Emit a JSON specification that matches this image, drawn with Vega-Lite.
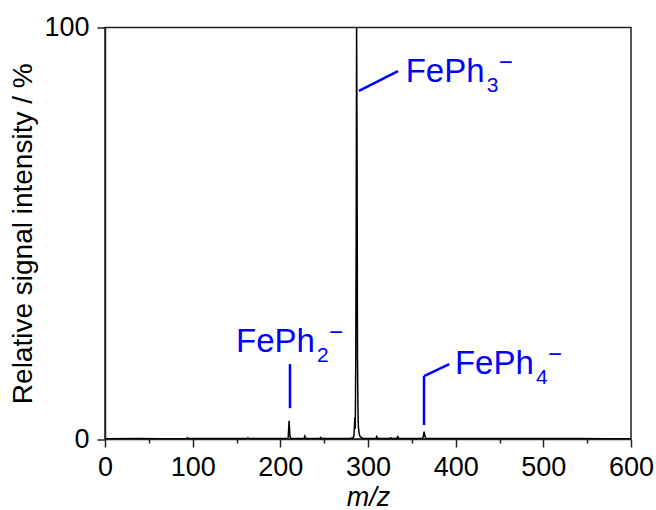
{
  "$schema": "https://vega.github.io/schema/vega-lite/v6.json",
  "width": 526,
  "height": 411.5,
  "autosize": "none",
  "padding": {"left": 105, "top": 27.5, "right": 25, "bottom": 71},
  "background": "white",
  "config": {
    "view": {"stroke": "#222", "strokeWidth": 1.5},
    "font": "Liberation Sans"
  },
  "datasets": {
    "spectrum": [
      {"mz": 0, "i": 0.05}, {"mz": 40, "i": 0.1}, {"mz": 60, "i": 0.05}, {"mz": 93, "i": 0.1}, {"mz": 94, "i": 0.3}, {"mz": 95, "i": 0.1},
      {"mz": 130, "i": 0.1}, {"mz": 150, "i": 0.1}, {"mz": 162, "i": 0.1}, {"mz": 163, "i": 0.3}, {"mz": 164, "i": 0.1},
      {"mz": 185, "i": 0.1}, {"mz": 200, "i": 0.15}, {"mz": 208, "i": 0.1}, {"mz": 209, "i": 0.4}, {"mz": 210, "i": 4.4},
      {"mz": 211, "i": 0.6}, {"mz": 212, "i": 0.15}, {"mz": 220, "i": 0.1}, {"mz": 227, "i": 0.1}, {"mz": 228, "i": 0.7},
      {"mz": 229, "i": 0.2}, {"mz": 240, "i": 0.1}, {"mz": 245, "i": 0.15}, {"mz": 246, "i": 0.4}, {"mz": 247, "i": 0.15},
      {"mz": 260, "i": 0.1}, {"mz": 270, "i": 0.15}, {"mz": 280, "i": 0.2}, {"mz": 283, "i": 0.3}, {"mz": 284, "i": 0.8},
      {"mz": 285, "i": 5.3}, {"mz": 285.5, "i": 2.5}, {"mz": 286, "i": 18}, {"mz": 286.5, "i": 48}, {"mz": 287, "i": 100},
      {"mz": 287.5, "i": 71}, {"mz": 288, "i": 20}, {"mz": 288.5, "i": 8}, {"mz": 289, "i": 3}, {"mz": 290, "i": 1.2},
      {"mz": 291, "i": 0.6}, {"mz": 292, "i": 0.4}, {"mz": 294, "i": 0.2}, {"mz": 300, "i": 0.15}, {"mz": 309, "i": 0.15},
      {"mz": 310, "i": 0.6}, {"mz": 311, "i": 0.2}, {"mz": 320, "i": 0.15}, {"mz": 325, "i": 0.1}, {"mz": 326, "i": 0.3},
      {"mz": 327, "i": 0.15}, {"mz": 333, "i": 0.2}, {"mz": 334, "i": 0.6}, {"mz": 335, "i": 0.2}, {"mz": 345, "i": 0.15},
      {"mz": 355, "i": 0.15}, {"mz": 362, "i": 0.2}, {"mz": 363, "i": 0.5}, {"mz": 364, "i": 1.8}, {"mz": 365, "i": 0.6},
      {"mz": 366, "i": 0.2}, {"mz": 380, "i": 0.1}, {"mz": 400, "i": 0.1}, {"mz": 420, "i": 0.1}, {"mz": 450, "i": 0.1},
      {"mz": 470, "i": 0.1}, {"mz": 500, "i": 0.15}, {"mz": 510, "i": 0.1}, {"mz": 540, "i": 0.1}, {"mz": 570, "i": 0.05},
      {"mz": 600, "i": 0.05}
    ],
    "leaders": [
      {"x": 289.7, "y": 84.6, "x2": 334.2, "y2": 89.4},
      {"x": 211.0, "y": 7.5, "x2": 211.0, "y2": 18.2},
      {"x": 363.9, "y": 3.4, "x2": 363.9, "y2": 15.3},
      {"x": 363.9, "y": 15.3, "x2": 392.7, "y2": 18.2}
    ],
    "labels": [
      {"x": 343.0, "y": 86.8, "main": "FePh", "sub": "3", "sup": "−"},
      {"x": 149.4, "y": 21.2, "main": "FePh", "sub": "2", "sup": "−"},
      {"x": 399.2, "y": 15.7, "main": "FePh", "sub": "4", "sup": "−"}
    ]
  },
  "layer": [
    {
      "data": {"name": "spectrum"},
      "mark": {"type": "line", "color": "black", "strokeWidth": 1.5, "clip": true},
      "encoding": {
        "x": {
          "field": "mz", "type": "quantitative",
          "scale": {"domain": [0, 600], "nice": false, "zero": false},
          "axis": {
            "values": [0, 25, 50, 75, 100, 125, 150, 175, 200, 225, 250, 275, 300, 325, 350, 375, 400, 425, 450, 475, 500, 525, 550, 575, 600],
            "labelExpr": "datum.value % 100 === 0 ? datum.label : ''",
            "tickSize": {"condition": {"test": "datum.value % 100 === 0", "value": 8}, "value": 4},
            "tickWidth": 1.5, "tickColor": "#222",
            "domainColor": "#222", "domainWidth": 1.5,
            "grid": false,
            "labelFontSize": 27, "labelColor": "black", "labelPadding": 7, "labelFlush": false,
            "title": "m/z", "titleFontSize": 27, "titleFontStyle": "italic", "titleFontWeight": "normal",
            "titleColor": "black", "titlePadding": 4
          }
        },
        "y": {
          "field": "i", "type": "quantitative",
          "scale": {"domain": [0, 100], "nice": false},
          "axis": {
            "values": [0, 100],
            "tickSize": 8, "tickWidth": 1.5, "tickColor": "#222",
            "domainColor": "#222", "domainWidth": 1.5,
            "grid": false,
            "labelFontSize": 27, "labelColor": "black", "labelPadding": 8, "labelFlush": false,
            "title": "Relative signal intensity / %", "titleFontSize": 28, "titleFontWeight": "normal",
            "titleColor": "black", "titlePadding": 6
          }
        }
      }
    },
    {
      "data": {"name": "leaders"},
      "mark": {"type": "rule", "color": "#0000ff", "strokeWidth": 2.5},
      "encoding": {
        "x": {"field": "x", "type": "quantitative"},
        "y": {"field": "y", "type": "quantitative"},
        "x2": {"field": "x2"},
        "y2": {"field": "y2"}
      }
    },
    {
      "data": {"name": "labels"},
      "mark": {"type": "text", "color": "#0000ff", "fontSize": 33, "align": "left", "baseline": "alphabetic"},
      "encoding": {
        "x": {"field": "x", "type": "quantitative"},
        "y": {"field": "y", "type": "quantitative"},
        "text": {"field": "main"}
      }
    },
    {
      "data": {"name": "labels"},
      "mark": {"type": "text", "color": "#0000ff", "fontSize": 21, "align": "left", "baseline": "alphabetic", "dx": 81, "dy": 10},
      "encoding": {
        "x": {"field": "x", "type": "quantitative"},
        "y": {"field": "y", "type": "quantitative"},
        "text": {"field": "sub"}
      }
    },
    {
      "data": {"name": "labels"},
      "mark": {"type": "text", "color": "#0000ff", "fontSize": 24, "align": "left", "baseline": "alphabetic", "dx": 93, "dy": -12},
      "encoding": {
        "x": {"field": "x", "type": "quantitative"},
        "y": {"field": "y", "type": "quantitative"},
        "text": {"field": "sup"}
      }
    }
  ]
}
